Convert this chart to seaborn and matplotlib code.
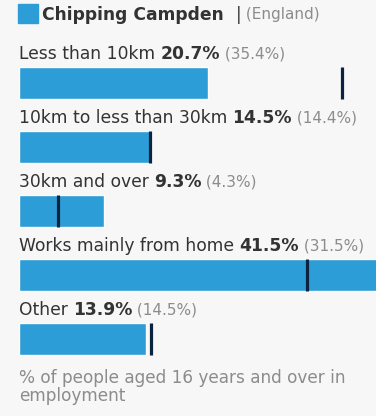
import matplotlib
matplotlib.use("Agg")
import matplotlib.pyplot as plt
from matplotlib.patches import Rectangle
import seaborn as sns
import pandas as pd

# Method of travel to work: distance travelled
categories = ["Less than 10km", "10km to less than 30km", "30km and over",
              "Works mainly from home", "Other"]
area_values = [20.7, 14.5, 9.3, 41.5, 13.9]
england_values = [35.4, 14.4, 4.3, 31.5, 14.5]
area_name = "Chipping Campden"
comparison_name = "England"
footnote = "% of people aged 16 years and over in\nemployment"

BAR = "#2c9dd6"
MARK = "#0c2340"
DARK = "#333333"
GREY = "#8c8c8c"
BG = "#f7f7f7"

sns.set_theme(style="white")
plt.rcParams["font.family"] = ["DejaVu Sans"]

df = pd.DataFrame({"category": categories, "value": area_values})

W, H = 376, 416
fig = plt.figure(figsize=(W / 100, H / 100), dpi=100, facecolor=BG)
ax = fig.add_axes([0, 0, 1, 1])
ax.set_facecolor(BG)

sns.barplot(data=df, x="value", y="category", orient="h", color=BAR,
            width=0.49, saturation=1, ax=ax)

# England comparison markers
for i, v in enumerate(england_values):
    ax.vlines(v, i - 0.245, i + 0.245, color=MARK, linewidth=2.3, zorder=5)

# pixel mapping: 0% at x=19px, 9.13px per percentage point; rows 64px apart
px_per = 9.13
ax.set_xlim(-19 / px_per, (W - 19) / px_per)
ax.set_ylim((H - 83) / 64, -83 / 64)
ax.axis("off")

MAIN = 12.3
SMALL = 11.0

# row labels: category, bold value, (comparison)
for i, (c, v, e) in enumerate(zip(categories, area_values, england_values)):
    y = i - 0.38
    t1 = ax.text(-0.05, y, c + " ", fontsize=MAIN, color=DARK, va="baseline")
    t2 = ax.annotate(f"{v}%", xy=(1, y), xycoords=(t1, "data"),
                     fontsize=MAIN, fontweight="bold", color=DARK, va="baseline")
    ax.annotate(f" ({e}%)", xy=(1, y), xycoords=(t2, "data"),
                fontsize=SMALL, color=GREY, va="baseline")

# legend row
fig.patches.append(Rectangle((18 / W, 1 - 23 / H), 20 / W, 19 / H,
                             transform=fig.transFigure, color=BAR, figure=fig))
ly = 1 - 19.5 / H
lt = fig.text(42 / W, ly, area_name + "  ", fontsize=MAIN,
              fontweight="bold", color=DARK, va="baseline")
sep = ax.annotate("|", xy=(1, ly), xycoords=(lt, "figure fraction"),
                  fontsize=12, color=DARK, va="baseline")
ax.annotate(f" ({comparison_name})", xy=(1, ly),
            xycoords=(sep, "figure fraction"), fontsize=SMALL, color=GREY,
            va="baseline")

# footnote, one line at a time
for k, line in enumerate(footnote.split("\n")):
    fig.text(19 / W, 1 - (383 + 18 * k) / H, line, fontsize=12.2, color=GREY,
             va="baseline")

fig.savefig("out.png", dpi=100, facecolor=BG)
